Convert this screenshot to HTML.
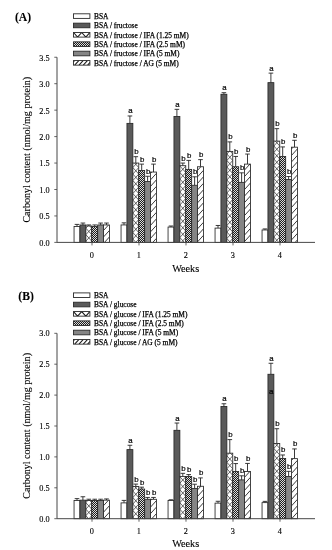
<!DOCTYPE html>
<html><head><meta charset="utf-8"><title>Carbonyl content</title>
<style>
html,body{margin:0;padding:0;background:#fff;}
body{width:332px;height:550px;overflow:hidden;}
svg{display:block;}
text{font-family:"Liberation Serif",serif;fill:#000;stroke:#000;stroke-width:0.22px;}
.yt{font-size:9.2px;text-anchor:end;stroke-width:0.14px;}
.xt{font-size:9.2px;text-anchor:middle;stroke-width:0.14px;}
.xl{font-size:11px;text-anchor:middle;stroke-width:0.12px;}
.yl{font-size:10.6px;text-anchor:middle;stroke-width:0.12px;}
.pl{font-size:11.6px;font-weight:bold;stroke-width:0.1px;}
.lg{font-size:7.45px;stroke-width:0.25px;}
.sl{font-family:"Liberation Sans",sans-serif;font-size:7.9px;text-anchor:middle;stroke-width:0.2px;}
</style></head><body>
<svg width="332" height="550" viewBox="0 0 332 550">
<defs>
<pattern id="pd" width="2" height="2" patternUnits="userSpaceOnUse"><rect width="2" height="2" fill="#1c1c1c"/><rect width="1" height="1" fill="#dcdcdc"/><rect x="1" y="1" width="1" height="1" fill="#dcdcdc"/></pattern>
<filter id="soft" x="0" y="0" width="332" height="550" filterUnits="userSpaceOnUse"><feGaussianBlur stdDeviation="0.32"/></filter>
</defs>
<rect width="332" height="550" fill="#fff"/>
<g filter="url(#soft)">
<path d="M77.00 226.53V224.41M74.70 224.41H79.30" stroke="#262626" stroke-width="0.9" fill="none"/>
<rect x="74.05" y="226.53" width="5.90" height="15.87" fill="#ffffff"/>
<rect x="74.05" y="226.53" width="5.90" height="15.87" fill="none" stroke="#262626" stroke-width="0.85"/>
<path d="M82.90 224.94V223.04M80.60 223.04H85.20" stroke="#262626" stroke-width="0.9" fill="none"/>
<rect x="79.95" y="224.94" width="5.90" height="17.46" fill="#5a5a5a"/>
<rect x="79.95" y="224.94" width="5.90" height="17.46" fill="none" stroke="#262626" stroke-width="0.85"/>
<path d="M88.80 226.00V224.94M86.50 224.94H91.10" stroke="#262626" stroke-width="0.9" fill="none"/>
<rect x="85.85" y="226.00" width="5.90" height="16.40" fill="#ffffff"/>
<clipPath id="c1"><rect x="85.85" y="226.00" width="5.90" height="16.40"/></clipPath>
<path d="M85.85 221.70L91.75 215.20M85.85 228.20L91.75 221.70M85.85 234.70L91.75 228.20M85.85 241.20L91.75 234.70M85.85 247.70L91.75 241.20M85.85 254.20L91.75 247.70M85.85 215.20L91.75 221.70M85.85 221.70L91.75 228.20M85.85 228.20L91.75 234.70M85.85 234.70L91.75 241.20M85.85 241.20L91.75 247.70M85.85 247.70L91.75 254.20" clip-path="url(#c1)" stroke="#262626" stroke-width="0.7" fill="none"/>
<rect x="85.85" y="226.00" width="5.90" height="16.40" fill="none" stroke="#262626" stroke-width="0.85"/>
<path d="M94.70 226.53V224.94M92.40 224.94H97.00" stroke="#262626" stroke-width="0.9" fill="none"/>
<rect x="91.75" y="226.53" width="5.90" height="15.87" fill="url(#pd)"/>
<rect x="91.75" y="226.53" width="5.90" height="15.87" fill="none" stroke="#262626" stroke-width="0.85"/>
<path d="M100.60 224.94V223.04M98.30 223.04H102.90" stroke="#262626" stroke-width="0.9" fill="none"/>
<rect x="97.65" y="224.94" width="5.90" height="17.46" fill="#858585"/>
<rect x="97.65" y="224.94" width="5.90" height="17.46" fill="none" stroke="#262626" stroke-width="0.85"/>
<path d="M106.50 224.94V223.04M104.20 223.04H108.80" stroke="#262626" stroke-width="0.9" fill="none"/>
<rect x="103.55" y="224.94" width="5.90" height="17.46" fill="#ffffff"/>
<clipPath id="c2"><rect x="103.55" y="224.94" width="5.90" height="17.46"/></clipPath>
<path d="M103.55 223.94L109.45 217.44M103.55 230.44L109.45 223.94M103.55 236.94L109.45 230.44M103.55 243.44L109.45 236.94M103.55 249.94L109.45 243.44" clip-path="url(#c2)" stroke="#262626" stroke-width="0.9" fill="none"/>
<rect x="103.55" y="224.94" width="5.90" height="17.46" fill="none" stroke="#262626" stroke-width="0.85"/>
<path d="M124.00 224.94V222.83M121.70 222.83H126.30" stroke="#262626" stroke-width="0.9" fill="none"/>
<rect x="121.05" y="224.94" width="5.90" height="17.46" fill="#ffffff"/>
<rect x="121.05" y="224.94" width="5.90" height="17.46" fill="none" stroke="#262626" stroke-width="0.85"/>
<path d="M129.90 123.38V115.97M127.60 115.97H132.20" stroke="#262626" stroke-width="0.9" fill="none"/>
<rect x="126.95" y="123.38" width="5.90" height="119.02" fill="#5a5a5a"/>
<rect x="126.95" y="123.38" width="5.90" height="119.02" fill="none" stroke="#262626" stroke-width="0.85"/>
<text transform="translate(130.50 113.47)" class="sl">a</text>
<path d="M135.80 163.05V156.70M133.50 156.70H138.10" stroke="#262626" stroke-width="0.9" fill="none"/>
<rect x="132.85" y="163.05" width="5.90" height="79.35" fill="#ffffff"/>
<clipPath id="c3"><rect x="132.85" y="163.05" width="5.90" height="79.35"/></clipPath>
<path d="M132.85 161.05L138.75 154.55M132.85 167.55L138.75 161.05M132.85 174.05L138.75 167.55M132.85 180.55L138.75 174.05M132.85 187.05L138.75 180.55M132.85 193.55L138.75 187.05M132.85 200.05L138.75 193.55M132.85 206.55L138.75 200.05M132.85 213.05L138.75 206.55M132.85 219.55L138.75 213.05M132.85 226.05L138.75 219.55M132.85 232.55L138.75 226.05M132.85 239.05L138.75 232.55M132.85 245.55L138.75 239.05M132.85 252.05L138.75 245.55M132.85 154.55L138.75 161.05M132.85 161.05L138.75 167.55M132.85 167.55L138.75 174.05M132.85 174.05L138.75 180.55M132.85 180.55L138.75 187.05M132.85 187.05L138.75 193.55M132.85 193.55L138.75 200.05M132.85 200.05L138.75 206.55M132.85 206.55L138.75 213.05M132.85 213.05L138.75 219.55M132.85 219.55L138.75 226.05M132.85 226.05L138.75 232.55M132.85 232.55L138.75 239.05M132.85 239.05L138.75 245.55M132.85 245.55L138.75 252.05" clip-path="url(#c3)" stroke="#262626" stroke-width="0.7" fill="none"/>
<rect x="132.85" y="163.05" width="5.90" height="79.35" fill="none" stroke="#262626" stroke-width="0.85"/>
<text transform="translate(136.40 154.20)" class="sl">b</text>
<path d="M141.70 170.46V164.11M139.40 164.11H144.00" stroke="#262626" stroke-width="0.9" fill="none"/>
<rect x="138.75" y="170.46" width="5.90" height="71.94" fill="url(#pd)"/>
<rect x="138.75" y="170.46" width="5.90" height="71.94" fill="none" stroke="#262626" stroke-width="0.85"/>
<text transform="translate(142.30 161.61)" class="sl">b</text>
<path d="M147.60 181.56V176.28M145.30 176.28H149.90" stroke="#262626" stroke-width="0.9" fill="none"/>
<rect x="144.65" y="181.56" width="5.90" height="60.84" fill="#858585"/>
<rect x="144.65" y="181.56" width="5.90" height="60.84" fill="none" stroke="#262626" stroke-width="0.85"/>
<text transform="translate(148.20 173.78)" class="sl">b</text>
<path d="M153.50 172.04V164.11M151.20 164.11H155.80" stroke="#262626" stroke-width="0.9" fill="none"/>
<rect x="150.55" y="172.04" width="5.90" height="70.36" fill="#ffffff"/>
<clipPath id="c4"><rect x="150.55" y="172.04" width="5.90" height="70.36"/></clipPath>
<path d="M150.55 166.84L156.45 160.34M150.55 173.34L156.45 166.84M150.55 179.84L156.45 173.34M150.55 186.34L156.45 179.84M150.55 192.84L156.45 186.34M150.55 199.34L156.45 192.84M150.55 205.84L156.45 199.34M150.55 212.34L156.45 205.84M150.55 218.84L156.45 212.34M150.55 225.34L156.45 218.84M150.55 231.84L156.45 225.34M150.55 238.34L156.45 231.84M150.55 244.84L156.45 238.34M150.55 251.34L156.45 244.84" clip-path="url(#c4)" stroke="#262626" stroke-width="0.9" fill="none"/>
<rect x="150.55" y="172.04" width="5.90" height="70.36" fill="none" stroke="#262626" stroke-width="0.85"/>
<text transform="translate(154.10 161.61)" class="sl">b</text>
<path d="M171.00 227.06V226.00M168.70 226.00H173.30" stroke="#262626" stroke-width="0.9" fill="none"/>
<rect x="168.05" y="227.06" width="5.90" height="15.34" fill="#ffffff"/>
<rect x="168.05" y="227.06" width="5.90" height="15.34" fill="none" stroke="#262626" stroke-width="0.85"/>
<path d="M176.90 116.50V109.36M174.60 109.36H179.20" stroke="#262626" stroke-width="0.9" fill="none"/>
<rect x="173.95" y="116.50" width="5.90" height="125.90" fill="#5a5a5a"/>
<rect x="173.95" y="116.50" width="5.90" height="125.90" fill="none" stroke="#262626" stroke-width="0.85"/>
<text transform="translate(177.50 106.86)" class="sl">a</text>
<path d="M182.80 165.69V163.05M180.50 163.05H185.10" stroke="#262626" stroke-width="0.9" fill="none"/>
<rect x="179.85" y="165.69" width="5.90" height="76.71" fill="#ffffff"/>
<clipPath id="c5"><rect x="179.85" y="165.69" width="5.90" height="76.71"/></clipPath>
<path d="M179.85 159.50L185.75 153.00M179.85 166.00L185.75 159.50M179.85 172.50L185.75 166.00M179.85 179.00L185.75 172.50M179.85 185.50L185.75 179.00M179.85 192.00L185.75 185.50M179.85 198.50L185.75 192.00M179.85 205.00L185.75 198.50M179.85 211.50L185.75 205.00M179.85 218.00L185.75 211.50M179.85 224.50L185.75 218.00M179.85 231.00L185.75 224.50M179.85 237.50L185.75 231.00M179.85 244.00L185.75 237.50M179.85 250.50L185.75 244.00M179.85 153.00L185.75 159.50M179.85 159.50L185.75 166.00M179.85 166.00L185.75 172.50M179.85 172.50L185.75 179.00M179.85 179.00L185.75 185.50M179.85 185.50L185.75 192.00M179.85 192.00L185.75 198.50M179.85 198.50L185.75 205.00M179.85 205.00L185.75 211.50M179.85 211.50L185.75 218.00M179.85 218.00L185.75 224.50M179.85 224.50L185.75 231.00M179.85 231.00L185.75 237.50M179.85 237.50L185.75 244.00M179.85 244.00L185.75 250.50" clip-path="url(#c5)" stroke="#262626" stroke-width="0.7" fill="none"/>
<rect x="179.85" y="165.69" width="5.90" height="76.71" fill="none" stroke="#262626" stroke-width="0.85"/>
<text transform="translate(183.40 160.55)" class="sl">b</text>
<path d="M188.70 169.40V160.41M186.40 160.41H191.00" stroke="#262626" stroke-width="0.9" fill="none"/>
<rect x="185.75" y="169.40" width="5.90" height="73.00" fill="url(#pd)"/>
<rect x="185.75" y="169.40" width="5.90" height="73.00" fill="none" stroke="#262626" stroke-width="0.85"/>
<text transform="translate(189.30 157.91)" class="sl">b</text>
<path d="M194.60 185.27V176.80M192.30 176.80H196.90" stroke="#262626" stroke-width="0.9" fill="none"/>
<rect x="191.65" y="185.27" width="5.90" height="57.13" fill="#858585"/>
<rect x="191.65" y="185.27" width="5.90" height="57.13" fill="none" stroke="#262626" stroke-width="0.85"/>
<text transform="translate(195.20 174.30)" class="sl">b</text>
<path d="M200.50 166.75V159.61M198.20 159.61H202.80" stroke="#262626" stroke-width="0.9" fill="none"/>
<rect x="197.55" y="166.75" width="5.90" height="75.65" fill="#ffffff"/>
<clipPath id="c6"><rect x="197.55" y="166.75" width="5.90" height="75.65"/></clipPath>
<path d="M197.55 163.85L203.45 157.35M197.55 170.35L203.45 163.85M197.55 176.85L203.45 170.35M197.55 183.35L203.45 176.85M197.55 189.85L203.45 183.35M197.55 196.35L203.45 189.85M197.55 202.85L203.45 196.35M197.55 209.35L203.45 202.85M197.55 215.85L203.45 209.35M197.55 222.35L203.45 215.85M197.55 228.85L203.45 222.35M197.55 235.35L203.45 228.85M197.55 241.85L203.45 235.35M197.55 248.35L203.45 241.85M197.55 254.85L203.45 248.35" clip-path="url(#c6)" stroke="#262626" stroke-width="0.9" fill="none"/>
<rect x="197.55" y="166.75" width="5.90" height="75.65" fill="none" stroke="#262626" stroke-width="0.85"/>
<text transform="translate(201.10 157.11)" class="sl">b</text>
<path d="M218.00 228.12V225.47M215.70 225.47H220.30" stroke="#262626" stroke-width="0.9" fill="none"/>
<rect x="215.05" y="228.12" width="5.90" height="14.28" fill="#ffffff"/>
<rect x="215.05" y="228.12" width="5.90" height="14.28" fill="none" stroke="#262626" stroke-width="0.85"/>
<path d="M223.90 94.28V92.69M221.60 92.69H226.20" stroke="#262626" stroke-width="0.9" fill="none"/>
<rect x="220.95" y="94.28" width="5.90" height="148.12" fill="#5a5a5a"/>
<rect x="220.95" y="94.28" width="5.90" height="148.12" fill="none" stroke="#262626" stroke-width="0.85"/>
<text transform="translate(224.50 90.19)" class="sl">a</text>
<path d="M229.80 151.41V141.89M227.50 141.89H232.10" stroke="#262626" stroke-width="0.9" fill="none"/>
<rect x="226.85" y="151.41" width="5.90" height="90.99" fill="#ffffff"/>
<clipPath id="c7"><rect x="226.85" y="151.41" width="5.90" height="90.99"/></clipPath>
<path d="M226.85 147.51L232.75 141.01M226.85 154.01L232.75 147.51M226.85 160.51L232.75 154.01M226.85 167.01L232.75 160.51M226.85 173.51L232.75 167.01M226.85 180.01L232.75 173.51M226.85 186.51L232.75 180.01M226.85 193.01L232.75 186.51M226.85 199.51L232.75 193.01M226.85 206.01L232.75 199.51M226.85 212.51L232.75 206.01M226.85 219.01L232.75 212.51M226.85 225.51L232.75 219.01M226.85 232.01L232.75 225.51M226.85 238.51L232.75 232.01M226.85 245.01L232.75 238.51M226.85 251.51L232.75 245.01M226.85 141.01L232.75 147.51M226.85 147.51L232.75 154.01M226.85 154.01L232.75 160.51M226.85 160.51L232.75 167.01M226.85 167.01L232.75 173.51M226.85 173.51L232.75 180.01M226.85 180.01L232.75 186.51M226.85 186.51L232.75 193.01M226.85 193.01L232.75 199.51M226.85 199.51L232.75 206.01M226.85 206.01L232.75 212.51M226.85 212.51L232.75 219.01M226.85 219.01L232.75 225.51M226.85 225.51L232.75 232.01M226.85 232.01L232.75 238.51M226.85 238.51L232.75 245.01M226.85 245.01L232.75 251.51" clip-path="url(#c7)" stroke="#262626" stroke-width="0.7" fill="none"/>
<rect x="226.85" y="151.41" width="5.90" height="90.99" fill="none" stroke="#262626" stroke-width="0.85"/>
<text transform="translate(230.40 139.39)" class="sl">b</text>
<path d="M235.70 166.75V156.44M233.40 156.44H238.00" stroke="#262626" stroke-width="0.9" fill="none"/>
<rect x="232.75" y="166.75" width="5.90" height="75.65" fill="url(#pd)"/>
<rect x="232.75" y="166.75" width="5.90" height="75.65" fill="none" stroke="#262626" stroke-width="0.85"/>
<text transform="translate(236.30 153.94)" class="sl">b</text>
<path d="M241.60 182.36V172.84M239.30 172.84H243.90" stroke="#262626" stroke-width="0.9" fill="none"/>
<rect x="238.65" y="182.36" width="5.90" height="60.04" fill="#858585"/>
<rect x="238.65" y="182.36" width="5.90" height="60.04" fill="none" stroke="#262626" stroke-width="0.85"/>
<text transform="translate(242.20 170.34)" class="sl">b</text>
<path d="M247.50 164.11V154.06M245.20 154.06H249.80" stroke="#262626" stroke-width="0.9" fill="none"/>
<rect x="244.55" y="164.11" width="5.90" height="78.29" fill="#ffffff"/>
<clipPath id="c8"><rect x="244.55" y="164.11" width="5.90" height="78.29"/></clipPath>
<path d="M244.55 163.51L250.45 157.01M244.55 170.01L250.45 163.51M244.55 176.51L250.45 170.01M244.55 183.01L250.45 176.51M244.55 189.51L250.45 183.01M244.55 196.01L250.45 189.51M244.55 202.51L250.45 196.01M244.55 209.01L250.45 202.51M244.55 215.51L250.45 209.01M244.55 222.01L250.45 215.51M244.55 228.51L250.45 222.01M244.55 235.01L250.45 228.51M244.55 241.51L250.45 235.01M244.55 248.01L250.45 241.51M244.55 254.51L250.45 248.01" clip-path="url(#c8)" stroke="#262626" stroke-width="0.9" fill="none"/>
<rect x="244.55" y="164.11" width="5.90" height="78.29" fill="none" stroke="#262626" stroke-width="0.85"/>
<text transform="translate(248.10 151.56)" class="sl">b</text>
<path d="M265.00 229.97V228.91M262.70 228.91H267.30" stroke="#262626" stroke-width="0.9" fill="none"/>
<rect x="262.05" y="229.97" width="5.90" height="12.43" fill="#ffffff"/>
<rect x="262.05" y="229.97" width="5.90" height="12.43" fill="none" stroke="#262626" stroke-width="0.85"/>
<path d="M270.90 82.64V73.12M268.60 73.12H273.20" stroke="#262626" stroke-width="0.9" fill="none"/>
<rect x="267.95" y="82.64" width="5.90" height="159.76" fill="#5a5a5a"/>
<rect x="267.95" y="82.64" width="5.90" height="159.76" fill="none" stroke="#262626" stroke-width="0.85"/>
<text transform="translate(271.50 70.62)" class="sl">a</text>
<path d="M276.80 141.10V128.67M274.50 128.67H279.10" stroke="#262626" stroke-width="0.9" fill="none"/>
<rect x="273.85" y="141.10" width="5.90" height="101.30" fill="#ffffff"/>
<clipPath id="c9"><rect x="273.85" y="141.10" width="5.90" height="101.30"/></clipPath>
<path d="M273.85 139.50L279.75 133.00M273.85 146.00L279.75 139.50M273.85 152.50L279.75 146.00M273.85 159.00L279.75 152.50M273.85 165.50L279.75 159.00M273.85 172.00L279.75 165.50M273.85 178.50L279.75 172.00M273.85 185.00L279.75 178.50M273.85 191.50L279.75 185.00M273.85 198.00L279.75 191.50M273.85 204.50L279.75 198.00M273.85 211.00L279.75 204.50M273.85 217.50L279.75 211.00M273.85 224.00L279.75 217.50M273.85 230.50L279.75 224.00M273.85 237.00L279.75 230.50M273.85 243.50L279.75 237.00M273.85 250.00L279.75 243.50M273.85 133.00L279.75 139.50M273.85 139.50L279.75 146.00M273.85 146.00L279.75 152.50M273.85 152.50L279.75 159.00M273.85 159.00L279.75 165.50M273.85 165.50L279.75 172.00M273.85 172.00L279.75 178.50M273.85 178.50L279.75 185.00M273.85 185.00L279.75 191.50M273.85 191.50L279.75 198.00M273.85 198.00L279.75 204.50M273.85 204.50L279.75 211.00M273.85 211.00L279.75 217.50M273.85 217.50L279.75 224.00M273.85 224.00L279.75 230.50M273.85 230.50L279.75 237.00M273.85 237.00L279.75 243.50M273.85 243.50L279.75 250.00" clip-path="url(#c9)" stroke="#262626" stroke-width="0.7" fill="none"/>
<rect x="273.85" y="141.10" width="5.90" height="101.30" fill="none" stroke="#262626" stroke-width="0.85"/>
<text transform="translate(277.40 126.17)" class="sl">b</text>
<path d="M282.70 156.44V146.92M280.40 146.92H285.00" stroke="#262626" stroke-width="0.9" fill="none"/>
<rect x="279.75" y="156.44" width="5.90" height="85.96" fill="url(#pd)"/>
<rect x="279.75" y="156.44" width="5.90" height="85.96" fill="none" stroke="#262626" stroke-width="0.85"/>
<text transform="translate(283.30 144.42)" class="sl">b</text>
<path d="M288.60 179.45V176.54M286.30 176.54H290.90" stroke="#262626" stroke-width="0.9" fill="none"/>
<rect x="285.65" y="179.45" width="5.90" height="62.95" fill="#858585"/>
<rect x="285.65" y="179.45" width="5.90" height="62.95" fill="none" stroke="#262626" stroke-width="0.85"/>
<text transform="translate(289.20 174.04)" class="sl">b</text>
<path d="M294.50 147.18V140.30M292.20 140.30H296.80" stroke="#262626" stroke-width="0.9" fill="none"/>
<rect x="291.55" y="147.18" width="5.90" height="95.22" fill="#ffffff"/>
<clipPath id="c10"><rect x="291.55" y="147.18" width="5.90" height="95.22"/></clipPath>
<path d="M291.55 142.38L297.45 135.88M291.55 148.88L297.45 142.38M291.55 155.38L297.45 148.88M291.55 161.88L297.45 155.38M291.55 168.38L297.45 161.88M291.55 174.88L297.45 168.38M291.55 181.38L297.45 174.88M291.55 187.88L297.45 181.38M291.55 194.38L297.45 187.88M291.55 200.88L297.45 194.38M291.55 207.38L297.45 200.88M291.55 213.88L297.45 207.38M291.55 220.38L297.45 213.88M291.55 226.88L297.45 220.38M291.55 233.38L297.45 226.88M291.55 239.88L297.45 233.38M291.55 246.38L297.45 239.88M291.55 252.88L297.45 246.38" clip-path="url(#c10)" stroke="#262626" stroke-width="0.9" fill="none"/>
<rect x="291.55" y="147.18" width="5.90" height="95.22" fill="none" stroke="#262626" stroke-width="0.85"/>
<text transform="translate(295.10 137.80)" class="sl">b</text>
<path d="M57.0 57.25V242.4H315.0" stroke="#484848" stroke-width="1.0" fill="none"/>
<path d="M54.3 242.40H57.0" stroke="#484848" stroke-width="0.85"/>
<text transform="translate(49.70 245.75) scale(0.9 1)" class="yt">0.0</text>
<path d="M54.3 215.95H57.0" stroke="#484848" stroke-width="0.85"/>
<text transform="translate(49.70 219.30) scale(0.9 1)" class="yt">0.5</text>
<path d="M54.3 189.50H57.0" stroke="#484848" stroke-width="0.85"/>
<text transform="translate(49.70 192.85) scale(0.9 1)" class="yt">1.0</text>
<path d="M54.3 163.05H57.0" stroke="#484848" stroke-width="0.85"/>
<text transform="translate(49.70 166.40) scale(0.9 1)" class="yt">1.5</text>
<path d="M54.3 136.60H57.0" stroke="#484848" stroke-width="0.85"/>
<text transform="translate(49.70 139.95) scale(0.9 1)" class="yt">2.0</text>
<path d="M54.3 110.15H57.0" stroke="#484848" stroke-width="0.85"/>
<text transform="translate(49.70 113.50) scale(0.9 1)" class="yt">2.5</text>
<path d="M54.3 83.70H57.0" stroke="#484848" stroke-width="0.85"/>
<text transform="translate(49.70 87.05) scale(0.9 1)" class="yt">3.0</text>
<path d="M54.3 57.25H57.0" stroke="#484848" stroke-width="0.85"/>
<text transform="translate(49.70 60.60) scale(0.9 1)" class="yt">3.5</text>
<path d="M92.0 242.4V245.4" stroke="#484848" stroke-width="0.85"/>
<text transform="translate(91.70 257.50) scale(0.9 1)" class="xt">0</text>
<path d="M139.0 242.4V245.4" stroke="#484848" stroke-width="0.85"/>
<text transform="translate(138.70 257.50) scale(0.9 1)" class="xt">1</text>
<path d="M186.0 242.4V245.4" stroke="#484848" stroke-width="0.85"/>
<text transform="translate(185.70 257.50) scale(0.9 1)" class="xt">2</text>
<path d="M233.0 242.4V245.4" stroke="#484848" stroke-width="0.85"/>
<text transform="translate(232.70 257.50) scale(0.9 1)" class="xt">3</text>
<path d="M280.0 242.4V245.4" stroke="#484848" stroke-width="0.85"/>
<text transform="translate(279.70 257.50) scale(0.9 1)" class="xt">4</text>
<text transform="translate(185.70 271.60) scale(0.93 1)" class="xl">Weeks</text>
<text transform="translate(29.5 149.72) rotate(-90) scale(0.948 1)" class="yl">Carbonyl content (nmol/mg protein)</text>
<text transform="translate(15.00 21.30)" class="pl">(A)</text>
<rect x="73.50" y="13.80" width="16.40" height="4.60" fill="#ffffff"/>
<rect x="73.50" y="13.80" width="16.40" height="4.60" fill="none" stroke="#2a2a2a" stroke-width="0.9"/>
<text transform="translate(94.00 18.90)" class="lg">BSA</text>
<rect x="73.50" y="23.15" width="16.40" height="4.60" fill="#5a5a5a"/>
<rect x="73.50" y="23.15" width="16.40" height="4.60" fill="none" stroke="#2a2a2a" stroke-width="0.9"/>
<text transform="translate(94.00 28.25)" class="lg">BSA / fructose</text>
<rect x="73.50" y="32.50" width="16.40" height="4.60" fill="#ffffff"/>
<clipPath id="c11"><rect x="73.50" y="32.50" width="16.40" height="4.60"/></clipPath>
<path d="M73.50 32.50L77.60 37.10L81.70 32.50L85.80 37.10L89.90 32.50L94.00 37.10L98.10 32.50" clip-path="url(#c11)" stroke="#1c1c1c" stroke-width="1.05" fill="none"/>
<rect x="73.50" y="32.50" width="16.40" height="4.60" fill="none" stroke="#2a2a2a" stroke-width="0.9"/>
<text transform="translate(94.00 37.60)" class="lg">BSA / fructose / IFA (1.25 mM)</text>
<rect x="73.50" y="41.85" width="16.40" height="4.60" fill="url(#pd)"/>
<rect x="73.50" y="41.85" width="16.40" height="4.60" fill="none" stroke="#2a2a2a" stroke-width="0.9"/>
<text transform="translate(94.00 46.95)" class="lg">BSA / fructose / IFA (2.5 mM)</text>
<rect x="73.50" y="51.20" width="16.40" height="4.60" fill="#858585"/>
<rect x="73.50" y="51.20" width="16.40" height="4.60" fill="none" stroke="#2a2a2a" stroke-width="0.9"/>
<text transform="translate(94.00 56.30)" class="lg">BSA / fructose / IFA (5 mM)</text>
<rect x="73.50" y="60.55" width="16.40" height="4.60" fill="#ffffff"/>
<clipPath id="c12"><rect x="73.50" y="60.55" width="16.40" height="4.60"/></clipPath>
<path d="M70.40 65.15L74.50 60.55M74.70 65.15L78.80 60.55M79.00 65.15L83.10 60.55M83.30 65.15L87.40 60.55M87.60 65.15L91.70 60.55M91.90 65.15L96.00 60.55" clip-path="url(#c12)" stroke="#1c1c1c" stroke-width="1.05" fill="none"/>
<rect x="73.50" y="60.55" width="16.40" height="4.60" fill="none" stroke="#2a2a2a" stroke-width="0.9"/>
<text transform="translate(94.00 65.65)" class="lg">BSA / fructose / AG (5 mM)</text>
<path d="M77.00 500.47V498.62M74.70 498.62H79.30" stroke="#262626" stroke-width="0.9" fill="none"/>
<rect x="74.05" y="500.47" width="5.90" height="18.23" fill="#ffffff"/>
<rect x="74.05" y="500.47" width="5.90" height="18.23" fill="none" stroke="#262626" stroke-width="0.85"/>
<path d="M82.90 500.16V496.76M80.60 496.76H85.20" stroke="#262626" stroke-width="0.9" fill="none"/>
<rect x="79.95" y="500.16" width="5.90" height="18.54" fill="#5a5a5a"/>
<rect x="79.95" y="500.16" width="5.90" height="18.54" fill="none" stroke="#262626" stroke-width="0.85"/>
<path d="M88.80 500.47V499.23M86.50 499.23H91.10" stroke="#262626" stroke-width="0.9" fill="none"/>
<rect x="85.85" y="500.47" width="5.90" height="18.23" fill="#ffffff"/>
<clipPath id="c13"><rect x="85.85" y="500.47" width="5.90" height="18.23"/></clipPath>
<path d="M85.85 496.17L91.75 489.67M85.85 502.67L91.75 496.17M85.85 509.17L91.75 502.67M85.85 515.67L91.75 509.17M85.85 522.17L91.75 515.67M85.85 528.67L91.75 522.17M85.85 489.67L91.75 496.17M85.85 496.17L91.75 502.67M85.85 502.67L91.75 509.17M85.85 509.17L91.75 515.67M85.85 515.67L91.75 522.17M85.85 522.17L91.75 528.67" clip-path="url(#c13)" stroke="#262626" stroke-width="0.7" fill="none"/>
<rect x="85.85" y="500.47" width="5.90" height="18.23" fill="none" stroke="#262626" stroke-width="0.85"/>
<path d="M94.70 500.47V499.23M92.40 499.23H97.00" stroke="#262626" stroke-width="0.9" fill="none"/>
<rect x="91.75" y="500.47" width="5.90" height="18.23" fill="url(#pd)"/>
<rect x="91.75" y="500.47" width="5.90" height="18.23" fill="none" stroke="#262626" stroke-width="0.85"/>
<path d="M100.60 500.47V499.23M98.30 499.23H102.90" stroke="#262626" stroke-width="0.9" fill="none"/>
<rect x="97.65" y="500.47" width="5.90" height="18.23" fill="#858585"/>
<rect x="97.65" y="500.47" width="5.90" height="18.23" fill="none" stroke="#262626" stroke-width="0.85"/>
<path d="M106.50 500.16V498.92M104.20 498.92H108.80" stroke="#262626" stroke-width="0.9" fill="none"/>
<rect x="103.55" y="500.16" width="5.90" height="18.54" fill="#ffffff"/>
<clipPath id="c14"><rect x="103.55" y="500.16" width="5.90" height="18.54"/></clipPath>
<path d="M103.55 499.16L109.45 492.66M103.55 505.66L109.45 499.16M103.55 512.16L109.45 505.66M103.55 518.66L109.45 512.16M103.55 525.16L109.45 518.66M103.55 531.66L109.45 525.16" clip-path="url(#c14)" stroke="#262626" stroke-width="0.9" fill="none"/>
<rect x="103.55" y="500.16" width="5.90" height="18.54" fill="none" stroke="#262626" stroke-width="0.85"/>
<path d="M124.00 502.88V500.41M121.70 500.41H126.30" stroke="#262626" stroke-width="0.9" fill="none"/>
<rect x="121.05" y="502.88" width="5.90" height="15.82" fill="#ffffff"/>
<rect x="121.05" y="502.88" width="5.90" height="15.82" fill="none" stroke="#262626" stroke-width="0.85"/>
<path d="M129.90 449.61V445.28M127.60 445.28H132.20" stroke="#262626" stroke-width="0.9" fill="none"/>
<rect x="126.95" y="449.61" width="5.90" height="69.09" fill="#5a5a5a"/>
<rect x="126.95" y="449.61" width="5.90" height="69.09" fill="none" stroke="#262626" stroke-width="0.85"/>
<text transform="translate(130.50 442.78)" class="sl">a</text>
<path d="M135.80 486.56V484.09M133.50 484.09H138.10" stroke="#262626" stroke-width="0.9" fill="none"/>
<rect x="132.85" y="486.56" width="5.90" height="32.14" fill="#ffffff"/>
<clipPath id="c15"><rect x="132.85" y="486.56" width="5.90" height="32.14"/></clipPath>
<path d="M132.85 484.56L138.75 478.06M132.85 491.06L138.75 484.56M132.85 497.56L138.75 491.06M132.85 504.06L138.75 497.56M132.85 510.56L138.75 504.06M132.85 517.06L138.75 510.56M132.85 523.56L138.75 517.06M132.85 530.06L138.75 523.56M132.85 478.06L138.75 484.56M132.85 484.56L138.75 491.06M132.85 491.06L138.75 497.56M132.85 497.56L138.75 504.06M132.85 504.06L138.75 510.56M132.85 510.56L138.75 517.06M132.85 517.06L138.75 523.56M132.85 523.56L138.75 530.06" clip-path="url(#c15)" stroke="#262626" stroke-width="0.7" fill="none"/>
<rect x="132.85" y="486.56" width="5.90" height="32.14" fill="none" stroke="#262626" stroke-width="0.85"/>
<text transform="translate(136.40 481.59)" class="sl">b</text>
<path d="M141.70 489.04V487.18M139.40 487.18H144.00" stroke="#262626" stroke-width="0.9" fill="none"/>
<rect x="138.75" y="489.04" width="5.90" height="29.66" fill="url(#pd)"/>
<rect x="138.75" y="489.04" width="5.90" height="29.66" fill="none" stroke="#262626" stroke-width="0.85"/>
<text transform="translate(142.30 484.68)" class="sl">b</text>
<path d="M147.60 499.29V497.44M145.30 497.44H149.90" stroke="#262626" stroke-width="0.9" fill="none"/>
<rect x="144.65" y="499.29" width="5.90" height="19.41" fill="#858585"/>
<rect x="144.65" y="499.29" width="5.90" height="19.41" fill="none" stroke="#262626" stroke-width="0.85"/>
<text transform="translate(148.20 494.94)" class="sl">b</text>
<path d="M153.50 499.29V497.44M151.20 497.44H155.80" stroke="#262626" stroke-width="0.9" fill="none"/>
<rect x="150.55" y="499.29" width="5.90" height="19.41" fill="#ffffff"/>
<clipPath id="c16"><rect x="150.55" y="499.29" width="5.90" height="19.41"/></clipPath>
<path d="M150.55 494.09L156.45 487.59M150.55 500.59L156.45 494.09M150.55 507.09L156.45 500.59M150.55 513.59L156.45 507.09M150.55 520.09L156.45 513.59M150.55 526.59L156.45 520.09" clip-path="url(#c16)" stroke="#262626" stroke-width="0.9" fill="none"/>
<rect x="150.55" y="499.29" width="5.90" height="19.41" fill="none" stroke="#262626" stroke-width="0.85"/>
<text transform="translate(154.10 494.94)" class="sl">b</text>
<path d="M171.00 500.53V499.79M168.70 499.79H173.30" stroke="#262626" stroke-width="0.9" fill="none"/>
<rect x="168.05" y="500.53" width="5.90" height="18.17" fill="#ffffff"/>
<rect x="168.05" y="500.53" width="5.90" height="18.17" fill="none" stroke="#262626" stroke-width="0.85"/>
<path d="M176.90 430.33V423.03M174.60 423.03H179.20" stroke="#262626" stroke-width="0.9" fill="none"/>
<rect x="173.95" y="430.33" width="5.90" height="88.37" fill="#5a5a5a"/>
<rect x="173.95" y="430.33" width="5.90" height="88.37" fill="none" stroke="#262626" stroke-width="0.85"/>
<text transform="translate(177.50 420.53)" class="sl">a</text>
<path d="M182.80 476.43V473.34M180.50 473.34H185.10" stroke="#262626" stroke-width="0.9" fill="none"/>
<rect x="179.85" y="476.43" width="5.90" height="42.27" fill="#ffffff"/>
<clipPath id="c17"><rect x="179.85" y="476.43" width="5.90" height="42.27"/></clipPath>
<path d="M179.85 470.23L185.75 463.73M179.85 476.73L185.75 470.23M179.85 483.23L185.75 476.73M179.85 489.73L185.75 483.23M179.85 496.23L185.75 489.73M179.85 502.73L185.75 496.23M179.85 509.23L185.75 502.73M179.85 515.73L185.75 509.23M179.85 522.23L185.75 515.73M179.85 528.73L185.75 522.23M179.85 463.73L185.75 470.23M179.85 470.23L185.75 476.73M179.85 476.73L185.75 483.23M179.85 483.23L185.75 489.73M179.85 489.73L185.75 496.23M179.85 496.23L185.75 502.73M179.85 502.73L185.75 509.23M179.85 509.23L185.75 515.73M179.85 515.73L185.75 522.23M179.85 522.23L185.75 528.73" clip-path="url(#c17)" stroke="#262626" stroke-width="0.7" fill="none"/>
<rect x="179.85" y="476.43" width="5.90" height="42.27" fill="none" stroke="#262626" stroke-width="0.85"/>
<text transform="translate(183.40 470.84)" class="sl">b</text>
<path d="M188.70 476.43V474.57M186.40 474.57H191.00" stroke="#262626" stroke-width="0.9" fill="none"/>
<rect x="185.75" y="476.43" width="5.90" height="42.27" fill="url(#pd)"/>
<rect x="185.75" y="476.43" width="5.90" height="42.27" fill="none" stroke="#262626" stroke-width="0.85"/>
<text transform="translate(189.30 472.07)" class="sl">b</text>
<path d="M194.60 488.42V484.22M192.30 484.22H196.90" stroke="#262626" stroke-width="0.9" fill="none"/>
<rect x="191.65" y="488.42" width="5.90" height="30.28" fill="#858585"/>
<rect x="191.65" y="488.42" width="5.90" height="30.28" fill="none" stroke="#262626" stroke-width="0.85"/>
<text transform="translate(195.20 481.72)" class="sl">b</text>
<path d="M200.50 486.26V477.91M198.20 477.91H202.80" stroke="#262626" stroke-width="0.9" fill="none"/>
<rect x="197.55" y="486.26" width="5.90" height="32.44" fill="#ffffff"/>
<clipPath id="c18"><rect x="197.55" y="486.26" width="5.90" height="32.44"/></clipPath>
<path d="M197.55 483.36L203.45 476.86M197.55 489.86L203.45 483.36M197.55 496.36L203.45 489.86M197.55 502.86L203.45 496.36M197.55 509.36L203.45 502.86M197.55 515.86L203.45 509.36M197.55 522.36L203.45 515.86M197.55 528.86L203.45 522.36" clip-path="url(#c18)" stroke="#262626" stroke-width="0.9" fill="none"/>
<rect x="197.55" y="486.26" width="5.90" height="32.44" fill="none" stroke="#262626" stroke-width="0.85"/>
<text transform="translate(201.10 475.41)" class="sl">b</text>
<path d="M218.00 503.13V501.27M215.70 501.27H220.30" stroke="#262626" stroke-width="0.9" fill="none"/>
<rect x="215.05" y="503.13" width="5.90" height="15.57" fill="#ffffff"/>
<rect x="215.05" y="503.13" width="5.90" height="15.57" fill="none" stroke="#262626" stroke-width="0.85"/>
<path d="M223.90 406.53V403.75M221.60 403.75H226.20" stroke="#262626" stroke-width="0.9" fill="none"/>
<rect x="220.95" y="406.53" width="5.90" height="112.17" fill="#5a5a5a"/>
<rect x="220.95" y="406.53" width="5.90" height="112.17" fill="none" stroke="#262626" stroke-width="0.85"/>
<text transform="translate(224.50 401.25)" class="sl">a</text>
<path d="M229.80 453.19V439.60M227.50 439.60H232.10" stroke="#262626" stroke-width="0.9" fill="none"/>
<rect x="226.85" y="453.19" width="5.90" height="65.51" fill="#ffffff"/>
<clipPath id="c19"><rect x="226.85" y="453.19" width="5.90" height="65.51"/></clipPath>
<path d="M226.85 449.29L232.75 442.79M226.85 455.79L232.75 449.29M226.85 462.29L232.75 455.79M226.85 468.79L232.75 462.29M226.85 475.29L232.75 468.79M226.85 481.79L232.75 475.29M226.85 488.29L232.75 481.79M226.85 494.79L232.75 488.29M226.85 501.29L232.75 494.79M226.85 507.79L232.75 501.29M226.85 514.29L232.75 507.79M226.85 520.79L232.75 514.29M226.85 527.29L232.75 520.79M226.85 442.79L232.75 449.29M226.85 449.29L232.75 455.79M226.85 455.79L232.75 462.29M226.85 462.29L232.75 468.79M226.85 468.79L232.75 475.29M226.85 475.29L232.75 481.79M226.85 481.79L232.75 488.29M226.85 488.29L232.75 494.79M226.85 494.79L232.75 501.29M226.85 501.29L232.75 507.79M226.85 507.79L232.75 514.29M226.85 514.29L232.75 520.79M226.85 520.79L232.75 527.29" clip-path="url(#c19)" stroke="#262626" stroke-width="0.7" fill="none"/>
<rect x="226.85" y="453.19" width="5.90" height="65.51" fill="none" stroke="#262626" stroke-width="0.85"/>
<text transform="translate(230.40 437.10)" class="sl">b</text>
<path d="M235.70 471.42V463.57M233.40 463.57H238.00" stroke="#262626" stroke-width="0.9" fill="none"/>
<rect x="232.75" y="471.42" width="5.90" height="47.28" fill="url(#pd)"/>
<rect x="232.75" y="471.42" width="5.90" height="47.28" fill="none" stroke="#262626" stroke-width="0.85"/>
<text transform="translate(236.30 461.07)" class="sl">b</text>
<path d="M241.60 479.89V475.81M239.30 475.81H243.90" stroke="#262626" stroke-width="0.9" fill="none"/>
<rect x="238.65" y="479.89" width="5.90" height="38.81" fill="#858585"/>
<rect x="238.65" y="479.89" width="5.90" height="38.81" fill="none" stroke="#262626" stroke-width="0.85"/>
<text transform="translate(242.20 473.31)" class="sl">b</text>
<path d="M247.50 471.42V463.45M245.20 463.45H249.80" stroke="#262626" stroke-width="0.9" fill="none"/>
<rect x="244.55" y="471.42" width="5.90" height="47.28" fill="#ffffff"/>
<clipPath id="c20"><rect x="244.55" y="471.42" width="5.90" height="47.28"/></clipPath>
<path d="M244.55 470.82L250.45 464.32M244.55 477.32L250.45 470.82M244.55 483.82L250.45 477.32M244.55 490.32L250.45 483.82M244.55 496.82L250.45 490.32M244.55 503.32L250.45 496.82M244.55 509.82L250.45 503.32M244.55 516.32L250.45 509.82M244.55 522.82L250.45 516.32M244.55 529.32L250.45 522.82" clip-path="url(#c20)" stroke="#262626" stroke-width="0.9" fill="none"/>
<rect x="244.55" y="471.42" width="5.90" height="47.28" fill="none" stroke="#262626" stroke-width="0.85"/>
<text transform="translate(248.10 460.95)" class="sl">b</text>
<path d="M265.00 502.63V501.40M262.70 501.40H267.30" stroke="#262626" stroke-width="0.9" fill="none"/>
<rect x="262.05" y="502.63" width="5.90" height="16.07" fill="#ffffff"/>
<rect x="262.05" y="502.63" width="5.90" height="16.07" fill="none" stroke="#262626" stroke-width="0.85"/>
<path d="M270.90 374.27V363.27M268.60 363.27H273.20" stroke="#262626" stroke-width="0.9" fill="none"/>
<rect x="267.95" y="374.27" width="5.90" height="144.43" fill="#5a5a5a"/>
<rect x="267.95" y="374.27" width="5.90" height="144.43" fill="none" stroke="#262626" stroke-width="0.85"/>
<text transform="translate(271.50 360.77)" class="sl">a</text>
<path d="M276.80 443.55V428.72M274.50 428.72H279.10" stroke="#262626" stroke-width="0.9" fill="none"/>
<rect x="273.85" y="443.55" width="5.90" height="75.15" fill="#ffffff"/>
<clipPath id="c21"><rect x="273.85" y="443.55" width="5.90" height="75.15"/></clipPath>
<path d="M273.85 441.95L279.75 435.45M273.85 448.45L279.75 441.95M273.85 454.95L279.75 448.45M273.85 461.45L279.75 454.95M273.85 467.95L279.75 461.45M273.85 474.45L279.75 467.95M273.85 480.95L279.75 474.45M273.85 487.45L279.75 480.95M273.85 493.95L279.75 487.45M273.85 500.45L279.75 493.95M273.85 506.95L279.75 500.45M273.85 513.45L279.75 506.95M273.85 519.95L279.75 513.45M273.85 526.45L279.75 519.95M273.85 435.45L279.75 441.95M273.85 441.95L279.75 448.45M273.85 448.45L279.75 454.95M273.85 454.95L279.75 461.45M273.85 461.45L279.75 467.95M273.85 467.95L279.75 474.45M273.85 474.45L279.75 480.95M273.85 480.95L279.75 487.45M273.85 487.45L279.75 493.95M273.85 493.95L279.75 500.45M273.85 500.45L279.75 506.95M273.85 506.95L279.75 513.45M273.85 513.45L279.75 519.95M273.85 519.95L279.75 526.45" clip-path="url(#c21)" stroke="#262626" stroke-width="0.7" fill="none"/>
<rect x="273.85" y="443.55" width="5.90" height="75.15" fill="none" stroke="#262626" stroke-width="0.85"/>
<text transform="translate(277.40 426.22)" class="sl">b</text>
<path d="M282.70 458.45V454.98M280.40 454.98H285.00" stroke="#262626" stroke-width="0.9" fill="none"/>
<rect x="279.75" y="458.45" width="5.90" height="60.25" fill="url(#pd)"/>
<rect x="279.75" y="458.45" width="5.90" height="60.25" fill="none" stroke="#262626" stroke-width="0.85"/>
<text transform="translate(283.30 452.48)" class="sl">b</text>
<path d="M288.60 476.43V471.36M286.30 471.36H290.90" stroke="#262626" stroke-width="0.9" fill="none"/>
<rect x="285.65" y="476.43" width="5.90" height="42.27" fill="#858585"/>
<rect x="285.65" y="476.43" width="5.90" height="42.27" fill="none" stroke="#262626" stroke-width="0.85"/>
<text transform="translate(289.20 468.86)" class="sl">b</text>
<path d="M294.50 458.63V448.93M292.20 448.93H296.80" stroke="#262626" stroke-width="0.9" fill="none"/>
<rect x="291.55" y="458.63" width="5.90" height="60.07" fill="#ffffff"/>
<clipPath id="c22"><rect x="291.55" y="458.63" width="5.90" height="60.07"/></clipPath>
<path d="M291.55 453.83L297.45 447.33M291.55 460.33L297.45 453.83M291.55 466.83L297.45 460.33M291.55 473.33L297.45 466.83M291.55 479.83L297.45 473.33M291.55 486.33L297.45 479.83M291.55 492.83L297.45 486.33M291.55 499.33L297.45 492.83M291.55 505.83L297.45 499.33M291.55 512.33L297.45 505.83M291.55 518.83L297.45 512.33M291.55 525.33L297.45 518.83" clip-path="url(#c22)" stroke="#262626" stroke-width="0.9" fill="none"/>
<rect x="291.55" y="458.63" width="5.90" height="60.07" fill="none" stroke="#262626" stroke-width="0.85"/>
<text transform="translate(295.10 446.43)" class="sl">b</text>
<text transform="translate(271.30 393.80)" class="sl">a</text>
<path d="M57.0 333.30V518.7H315.0" stroke="#484848" stroke-width="1.0" fill="none"/>
<path d="M54.3 518.70H57.0" stroke="#484848" stroke-width="0.85"/>
<text transform="translate(49.70 521.75) scale(0.9 1)" class="yt">0.0</text>
<path d="M54.3 487.80H57.0" stroke="#484848" stroke-width="0.85"/>
<text transform="translate(49.70 490.85) scale(0.9 1)" class="yt">0.5</text>
<path d="M54.3 456.90H57.0" stroke="#484848" stroke-width="0.85"/>
<text transform="translate(49.70 459.95) scale(0.9 1)" class="yt">1.0</text>
<path d="M54.3 426.00H57.0" stroke="#484848" stroke-width="0.85"/>
<text transform="translate(49.70 429.05) scale(0.9 1)" class="yt">1.5</text>
<path d="M54.3 395.10H57.0" stroke="#484848" stroke-width="0.85"/>
<text transform="translate(49.70 398.15) scale(0.9 1)" class="yt">2.0</text>
<path d="M54.3 364.20H57.0" stroke="#484848" stroke-width="0.85"/>
<text transform="translate(49.70 367.25) scale(0.9 1)" class="yt">2.5</text>
<path d="M54.3 333.30H57.0" stroke="#484848" stroke-width="0.85"/>
<text transform="translate(49.70 336.35) scale(0.9 1)" class="yt">3.0</text>
<path d="M92.0 518.7V521.7" stroke="#484848" stroke-width="0.85"/>
<text transform="translate(91.70 533.80) scale(0.9 1)" class="xt">0</text>
<path d="M139.0 518.7V521.7" stroke="#484848" stroke-width="0.85"/>
<text transform="translate(138.70 533.80) scale(0.9 1)" class="xt">1</text>
<path d="M186.0 518.7V521.7" stroke="#484848" stroke-width="0.85"/>
<text transform="translate(185.70 533.80) scale(0.9 1)" class="xt">2</text>
<path d="M233.0 518.7V521.7" stroke="#484848" stroke-width="0.85"/>
<text transform="translate(232.70 533.80) scale(0.9 1)" class="xt">3</text>
<path d="M280.0 518.7V521.7" stroke="#484848" stroke-width="0.85"/>
<text transform="translate(279.70 533.80) scale(0.9 1)" class="xt">4</text>
<text transform="translate(185.70 547.00) scale(0.93 1)" class="xl">Weeks</text>
<text transform="translate(29.5 425.90) rotate(-90) scale(0.948 1)" class="yl">Carbonyl content (nmol/mg protein)</text>
<text transform="translate(18.30 299.90)" class="pl">(B)</text>
<rect x="73.50" y="292.90" width="16.40" height="4.60" fill="#ffffff"/>
<rect x="73.50" y="292.90" width="16.40" height="4.60" fill="none" stroke="#2a2a2a" stroke-width="0.9"/>
<text transform="translate(94.00 298.00)" class="lg">BSA</text>
<rect x="73.50" y="302.23" width="16.40" height="4.60" fill="#5a5a5a"/>
<rect x="73.50" y="302.23" width="16.40" height="4.60" fill="none" stroke="#2a2a2a" stroke-width="0.9"/>
<text transform="translate(94.00 307.33)" class="lg">BSA / glucose</text>
<rect x="73.50" y="311.56" width="16.40" height="4.60" fill="#ffffff"/>
<clipPath id="c23"><rect x="73.50" y="311.56" width="16.40" height="4.60"/></clipPath>
<path d="M73.50 311.56L77.60 316.16L81.70 311.56L85.80 316.16L89.90 311.56L94.00 316.16L98.10 311.56" clip-path="url(#c23)" stroke="#1c1c1c" stroke-width="1.05" fill="none"/>
<rect x="73.50" y="311.56" width="16.40" height="4.60" fill="none" stroke="#2a2a2a" stroke-width="0.9"/>
<text transform="translate(94.00 316.66)" class="lg">BSA / glucose / IFA (1.25 mM)</text>
<rect x="73.50" y="320.89" width="16.40" height="4.60" fill="url(#pd)"/>
<rect x="73.50" y="320.89" width="16.40" height="4.60" fill="none" stroke="#2a2a2a" stroke-width="0.9"/>
<text transform="translate(94.00 325.99)" class="lg">BSA / glucose / IFA (2.5 mM)</text>
<rect x="73.50" y="330.22" width="16.40" height="4.60" fill="#858585"/>
<rect x="73.50" y="330.22" width="16.40" height="4.60" fill="none" stroke="#2a2a2a" stroke-width="0.9"/>
<text transform="translate(94.00 335.32)" class="lg">BSA / glucose / IFA (5 mM)</text>
<rect x="73.50" y="339.55" width="16.40" height="4.60" fill="#ffffff"/>
<clipPath id="c24"><rect x="73.50" y="339.55" width="16.40" height="4.60"/></clipPath>
<path d="M70.40 344.15L74.50 339.55M74.70 344.15L78.80 339.55M79.00 344.15L83.10 339.55M83.30 344.15L87.40 339.55M87.60 344.15L91.70 339.55M91.90 344.15L96.00 339.55" clip-path="url(#c24)" stroke="#1c1c1c" stroke-width="1.05" fill="none"/>
<rect x="73.50" y="339.55" width="16.40" height="4.60" fill="none" stroke="#2a2a2a" stroke-width="0.9"/>
<text transform="translate(94.00 344.65)" class="lg">BSA / glucose / AG (5 mM)</text>
</g>
</svg>
</body></html>
